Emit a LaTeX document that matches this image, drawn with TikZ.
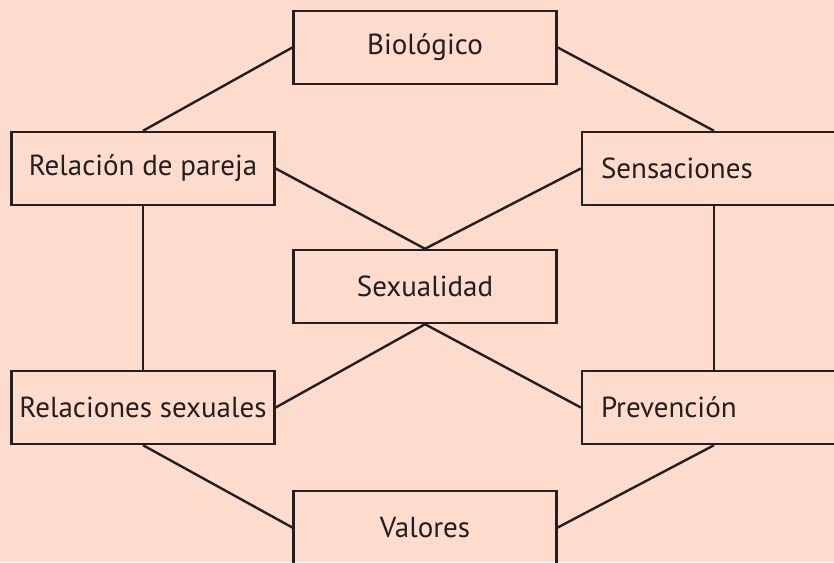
\documentclass[tikz,border=0pt]{standalone}
\usepackage{fontspec}
\setmainfont{PT Sans}
\usetikzlibrary{positioning}
\definecolor{peach}{RGB}{253,220,205}
\definecolor{ink}{RGB}{35,31,32}

\begin{document}
\begin{tikzpicture}[
  x=1pt, y=-1pt,
  font=\fontsize{29}{34}\selectfont,
  box/.style   ={draw=ink, line width=2.4pt, text=ink,
                  minimum width=263pt, minimum height=73pt, inner sep=0pt},
  sidebox/.style={box, minimum width=264pt, text width=226pt,
                  align=left, inner xsep=19pt},
  link/.style  ={draw=ink, line width=2.4pt}
]

% =================== BACKGROUND ===================
\fill[peach] (0,0) rectangle (834,562);
\useasboundingbox (0,0) rectangle (834,562);

% =================== BOXES ===================
\node[box]     (bio)    at (425, 47.5)  {Biológico};
\node[box]     (pareja) at (143, 168.5) {Relación de pareja};
\node[sidebox] (sens)   at (714, 168.5) {Sensaciones};
\node[box]     (sex)    at (425, 286.5) {Sexualidad};
\node[box]     (relsex) at (143, 407.5) {Relaciones sexuales};
\node[sidebox] (prev)   at (714, 407.5) {Prevención};
\node[box]     (val)    at (425, 527.5) {Valores};

% =================== LINKS ===================
% top ring
\draw[link] (bio.west) -- (pareja.north);
\draw[link] (bio.east) -- (sens.north);

% crossing through the centre
\draw[link] (pareja.east) -- (sex.north);
\draw[link] (sens.west)   -- (sex.north);
\draw[link] (sex.south)   -- (relsex.east);
\draw[link] (sex.south)   -- (prev.west);

% sides
\draw[link] (pareja.south) -- (relsex.north);
\draw[link] (sens.south)   -- (prev.north);

% bottom ring
\draw[link] (relsex.south) -- (val.west);
\draw[link] (prev.south)   -- (val.east);

\end{tikzpicture}
\end{document}
